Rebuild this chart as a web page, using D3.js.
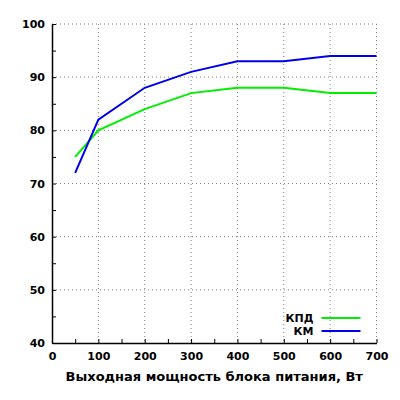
<!DOCTYPE html>
<html>
<head>
<meta charset="utf-8">
<script src="https://cdn.jsdelivr.net/npm/d3@7"></script>
<style>
  body { margin: 0; background: #fff; }
  text { font-family: "DejaVu Sans", sans-serif; font-weight: bold; fill: #000; }
</style>
</head>
<body>
<div id="chart-area"></div>
<script>
// data
const powerW = [50, 100, 200, 300, 400, 500, 600, 700];
const kpd = [75, 80, 84, 87, 88, 88, 87, 87];
const km = [72, 82, 88, 91, 93, 93, 94, 94];
const seriesNames = ["КПД", "КМ"];
const xTicks = [0, 100, 200, 300, 400, 500, 600, 700];
const yTicks = [40, 50, 60, 70, 80, 90, 100];
const xTitle = "Выходная мощность блока питания, Вт";

// set the dimensions and margins of the graph
const margin = {top: 24, right: 23.5, bottom: 57, left: 52},
    width = 400 - margin.left - margin.right,
    height = 400 - margin.top - margin.bottom;

const svg = d3.select("#chart-area")
  .append("svg")
    .attr("width", 400)
    .attr("height", 400)
  .append("g")
    .attr("transform", `translate(${margin.left}, ${margin.top})`);

const x = d3.scaleLinear().domain([0, 700]).range([0, width]);
const y = d3.scaleLinear().domain([40, 100]).range([height, 0]);

// dotted grid
svg.append("g")
  .selectAll("line")
  .data(xTicks.slice(1))
  .enter().append("line")
    .attr("x1", d => x(d)).attr("x2", d => x(d))
    .attr("y1", 0).attr("y2", height)
    .attr("stroke", "#808080")
    .attr("stroke-dasharray", "1,3");
svg.append("g")
  .selectAll("line")
  .data(yTicks.slice(1))
  .enter().append("line")
    .attr("x1", 0).attr("x2", width)
    .attr("y1", d => y(d)).attr("y2", d => y(d))
    .attr("stroke", "#808080")
    .attr("stroke-dasharray", "1,3");

// X axis
const xAxis = svg.append("g")
  .attr("transform", `translate(0, ${height})`)
  .call(d3.axisBottom(x).tickValues(xTicks).tickSizeInner(-4).tickSizeOuter(0).tickPadding(9));
xAxis.selectAll("text").style("font-size", "11px");
// minor x ticks
svg.append("g")
  .attr("transform", `translate(0, ${height})`)
  .call(d3.axisBottom(x).tickValues(d3.range(50, 700, 100)).tickSizeInner(-4).tickSizeOuter(0).tickFormat(""))
  .select(".domain").remove();

// Y axis
const yAxis = svg.append("g")
  .call(d3.axisLeft(y).tickValues(yTicks).tickSizeInner(-4).tickSizeOuter(0).tickPadding(7));
yAxis.selectAll("text").style("font-size", "11px");
svg.append("g")
  .call(d3.axisLeft(y).tickValues(d3.range(45, 100, 10)).tickSizeInner(-4).tickSizeOuter(0).tickFormat(""))
  .select(".domain").remove();

svg.selectAll(".domain").attr("stroke", "#000").attr("stroke-width", 1.5);
svg.selectAll(".tick line").attr("stroke", "#000");

// lines
const line = d3.line()
  .x((d, i) => x(powerW[i]))
  .y(d => y(d));

const colors = ["#00ee00", "#0000ee"];
[kpd, km].forEach((vals, i) => {
  svg.append("path")
    .datum(vals)
    .attr("fill", "none")
    .attr("stroke", colors[i])
    .attr("stroke-width", 2)
    .attr("d", line);
});

// legend
const legend = svg.append("g")
  .attr("transform", `translate(${width - 63}, ${height - 25})`);
seriesNames.forEach((name, i) => {
  legend.append("text")
    .attr("x", 0)
    .attr("y", i * 13 + 4)
    .attr("text-anchor", "end")
    .style("font-size", "11px")
    .text(name);
  legend.append("line")
    .attr("x1", 8).attr("x2", 47)
    .attr("y1", i * 13).attr("y2", i * 13)
    .attr("stroke", colors[i])
    .attr("stroke-width", 2);
});

// axis title
svg.append("text")
  .attr("x", width / 2)
  .attr("y", height + 38)
  .attr("text-anchor", "middle")
  .style("font-size", "13px")
  .text(xTitle);
</script>
</body>
</html>
